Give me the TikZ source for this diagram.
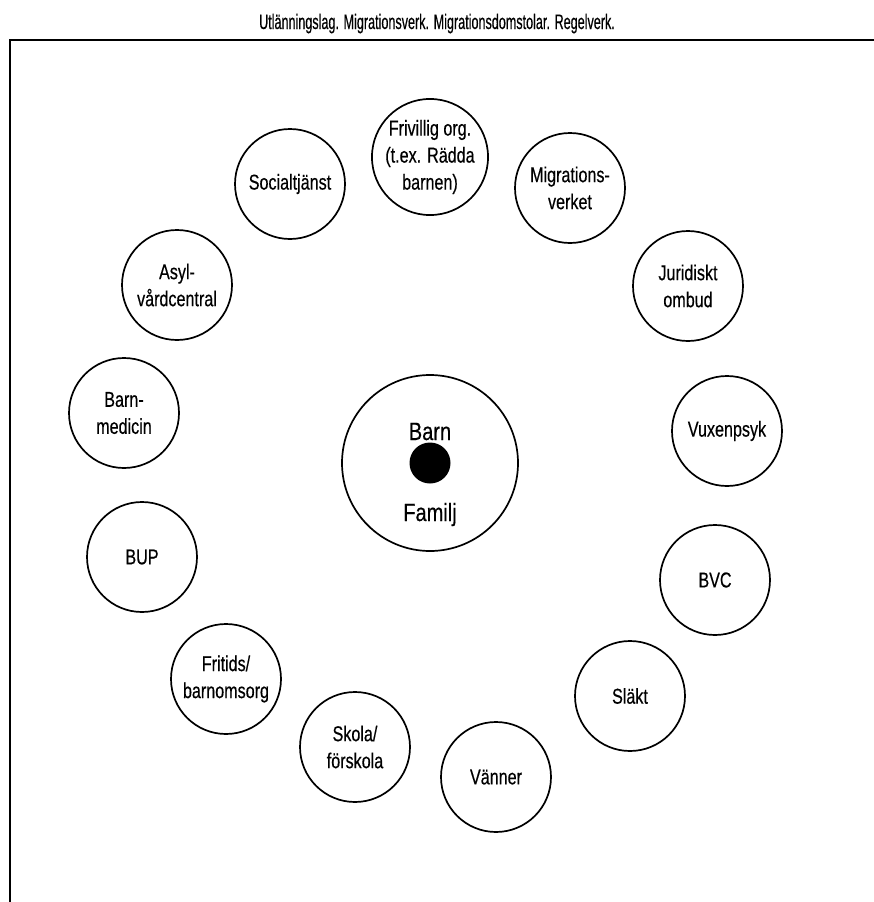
\documentclass[tikz,border=0pt]{standalone}
\usepackage{fontspec}
\setmainfont{Liberation Sans}[FakeStretch=0.75,FakeBold=0.4]
\newfontfamily\titlefont{Liberation Sans}[FakeStretch=0.6,FakeBold=0.4]
\newfontfamily\bigfont{Liberation Sans}[FakeStretch=0.8,FakeBold=0.4]
\begin{document}
\begin{tikzpicture}[x=1pt,y=-1pt,
  org/.style={draw,circle,line width=1.7pt,minimum size=110pt,inner sep=0pt,
    align=center,font=\fontsize{21.5}{27}\selectfont},
  bigc/.style={draw,circle,line width=1.7pt,minimum size=176pt,inner sep=0pt},
  bigtext/.style={inner sep=0pt,anchor=base,font=\bigfont\fontsize{25}{30}\selectfont},
  frame/.style={line width=2.5pt}]
\useasboundingbox (0,0) rectangle (874,902);
\node[anchor=base,inner sep=0pt,font=\titlefont\fontsize{21}{24}\selectfont] (title) at (437,29) {Utlänningslag. Migrationsverk. Migrationsdomstolar. Regelverk.};
\draw[frame] (10,903) -- (10,40) -- (875,40);
% centre
\node[bigc] (centre) at (430,463) {};
\node[circle,fill=black,minimum size=41pt,inner sep=0pt] (dot) at (430,463) {};
\node[bigtext] (barn) at (430,440) {Barn};
\node[bigtext] (familj) at (430,521) {Familj};
% ring
\node[org] (friv) at (430,157) {Frivillig org.\\(t.ex. Rädda\\barnen)};
\node[org] (migr) at (570,188) {Migrations-\\verket};
\node[org] (soc) at (290,184) {Socialtjänst};
\node[org] (jur) at (688,286) {Juridiskt\\ombud};
\node[org] (asyl) at (177,285) {Asyl-\\vårdcentral};
\node[org] (vux) at (727,431) {Vuxenpsyk};
\node[org] (bmed) at (124,413) {Barn-\\medicin};
\node[org] (bup) at (142,557) {BUP};
\node[org] (bvc) at (715,580) {BVC};
\node[org] (frit) at (226,679) {Fritids/\\barnomsorg};
\node[org] (slakt) at (630,696) {Släkt};
\node[org] (skola) at (355,747) {Skola/\\förskola};
\node[org] (vann) at (496,777) {Vänner};
\end{tikzpicture}
\end{document}
